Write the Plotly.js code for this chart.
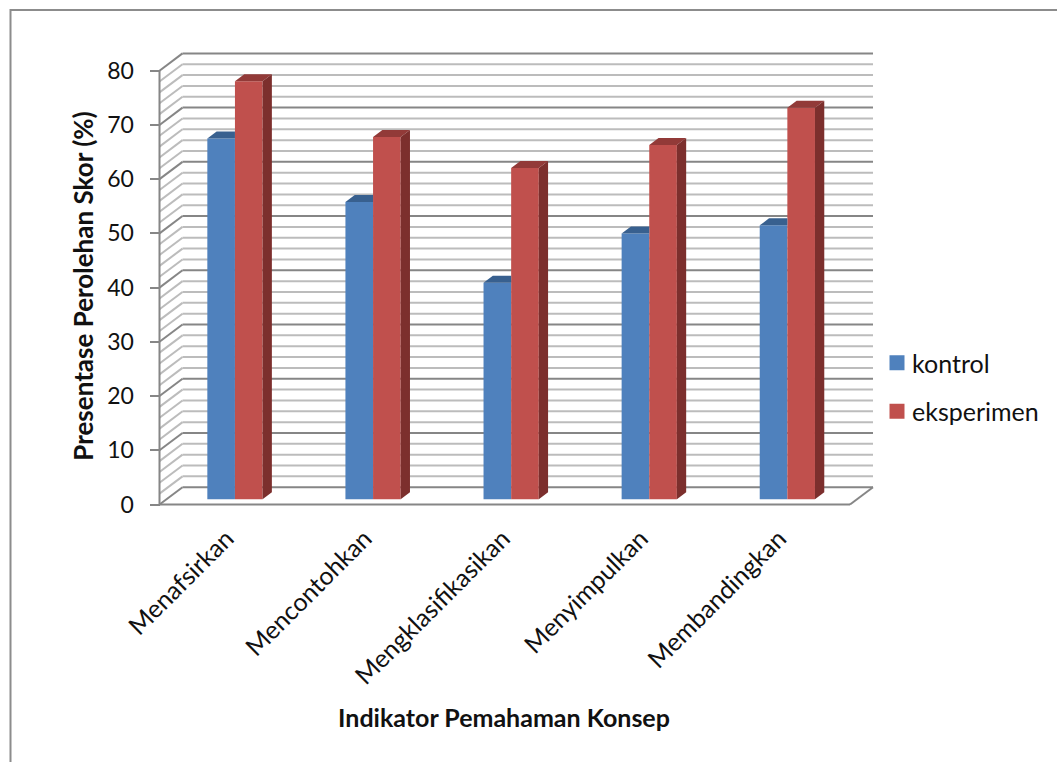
<!DOCTYPE html>
<html>
<head>
<meta charset="utf-8">
<script src="https://cdn.plot.ly/plotly-3.0.1.min.js"></script>
<style>html,body{margin:0;padding:0;background:#fff}#chart{width:1057px;height:762px}</style>
</head>
<body>
<div id="chart"></div>
<script>
// Scores per concept-understanding indicator
const categories = ["Menafsirkan", "Mencontohkan", "Mengklasifikasikan", "Menyimpulkan", "Membandingkan"];
const kontrol = [66.5, 54.8, 39.9, 49, 50.5];
const eksperimen = [77.1, 66.8, 61.1, 65.3, 72.2];
const yTicks = [0, 10, 20, 30, 40, 50, 60, 70, 80];

// Page geometry of the plot area
const W = 1057, H = 762;
const LEFT = 132, RIGHT = 876, TOP = 51, BOTTOM = 521;
const ORIGIN_X = 159.5, ORIGIN_Y = 504.5, PX_PER_CAT = 138.1, PX_PER_UNIT = 5.4225;

// Oblique projection: wall depth and bar depth expressed in axis units
const WALL_DX = 23 / PX_PER_CAT, WALL_DY = 17.3 / PX_PER_UNIT;
const BAR_DX = 9.3 / PX_PER_CAT, BAR_DY = 7 / PX_PER_UNIT;
const BAR_SHIFT_X = 6.4 / PX_PER_CAT, BAR_BASE = 5.3 / PX_PER_UNIT;
const BAR_WIDTH = 0.2;
const LABEL_SHIFT_X = -2 / PX_PER_CAT;

const FONT = "Lato, Carlito, Calibri, sans-serif";
const GRID_MINOR = "#bcbcbc", GRID_MAJOR = "#868686";

const centers = categories.map((_, i) => i + 0.5 + BAR_SHIFT_X);

// Top face of a bar; the right end can stop at a neighbour's front face
function topFace(xs, ys, clipRight) {
  const px = [], py = [];
  xs.forEach((x0, i) => {
    const x1 = x0 + BAR_WIDTH, t = ys[i] + BAR_BASE;
    const xr = clipRight ? x1 : x1 + BAR_DX;
    px.push(x0, x0 + BAR_DX, xr, x1, x0, null);
    py.push(t, t + BAR_DY, t + BAR_DY, t, t, null);
  });
  return {x: px, y: py};
}

// Right-hand side face of a bar
function sideFace(xs, ys) {
  const px = [], py = [];
  xs.forEach((x0, i) => {
    const x1 = x0 + BAR_WIDTH, b = BAR_BASE, t = ys[i] + BAR_BASE;
    px.push(x1, x1 + BAR_DX, x1 + BAR_DX, x1, x1, null);
    py.push(b, b + BAR_DY, t + BAR_DY, t, b, null);
  });
  return {x: px, y: py};
}

function face(poly, color) {
  return {type: "scatter", mode: "lines", x: poly.x, y: poly.y, fill: "toself",
          fillcolor: color, line: {width: 0, color: color}, hoverinfo: "skip", showlegend: false};
}

function barTrace(name, values, color, offset) {
  return {type: "bar", name: name, x: centers, y: values, base: BAR_BASE,
          width: BAR_WIDTH, offset: offset, legendgroup: name,
          marker: {color: color, line: {width: 0}}};
}

const traces = [
  barTrace("kontrol", kontrol, "#4F81BD", -BAR_WIDTH),
  barTrace("eksperimen", eksperimen, "#C0504D", 0),
  face(topFace(centers.map(c => c - BAR_WIDTH), kontrol, true), "#38608F"),
  face(topFace(centers, eksperimen, false), "#923A38"),
  face(sideFace(centers, eksperimen), "#7C2F2D")
];

// Walls and floor of the box, layered underneath the bars
function seg(x0, y0, x1, y1, color, width) {
  return {type: "line", xref: "x", yref: "y", layer: "below", x0, y0, x1, y1,
          line: {color: color, width: width}};
}
const shapes = [];
for (let v = 0; v <= 80; v += 2) {
  const major = v % 10 === 0;
  const col = major ? GRID_MAJOR : GRID_MINOR;
  shapes.push(seg(WALL_DX, v + WALL_DY, 5 + WALL_DX, v + WALL_DY, col, 2));
  shapes.push(seg(0, v, WALL_DX, v + WALL_DY, col, 2));
}
shapes.push(seg(0, 0, 0, 80, GRID_MAJOR, 2));
shapes.push(seg(0, 0, 5, 0, GRID_MAJOR, 2));
shapes.push(seg(5, 0, 5 + WALL_DX, WALL_DY, GRID_MAJOR, 2));

// Outer chart frame, running off the right and bottom of the page
const pw = RIGHT - LEFT, ph = BOTTOM - TOP;
shapes.push({type: "path", xref: "paper", yref: "paper", layer: "below",
  path: `M ${(10.5 - LEFT) / pw} ${(BOTTOM - 780) / ph} L ${(10.5 - LEFT) / pw} ${(BOTTOM - 10) / ph} L ${(1070 - LEFT) / pw} ${(BOTTOM - 10) / ph}`,
  line: {color: "#8c8c8c", width: 2}});

const layout = {
  width: W, height: H,
  margin: {l: LEFT, r: W - RIGHT, t: TOP, b: H - BOTTOM, pad: 0},
  paper_bgcolor: "#fff", plot_bgcolor: "rgba(0,0,0,0)",
  font: {family: FONT, color: "#111"},
  barmode: "overlay",
  xaxis: {
    range: [(LEFT - ORIGIN_X) / PX_PER_CAT, (RIGHT - ORIGIN_X) / PX_PER_CAT],
    tickmode: "array", tickvals: categories.map((_, i) => i + 0.5 + LABEL_SHIFT_X), ticktext: categories,
    tickangle: -45, tickfont: {size: 25, family: FONT, color: "#111"},
    showgrid: false, zeroline: false, showline: false, ticks: "",
    ticklabelstandoff: -3, automargin: false,
    title: {text: "<b>Indikator Pemahaman Konsep</b>", font: {size: 25, family: FONT, color: "#111"}, standoff: 20}
  },
  yaxis: {
    range: [(ORIGIN_Y - BOTTOM) / PX_PER_UNIT, (ORIGIN_Y - TOP) / PX_PER_UNIT],
    anchor: "free", position: (ORIGIN_X - LEFT) / pw,
    tickmode: "array", tickvals: yTicks, ticktext: yTicks.map(String),
    tickfont: {size: 23, family: FONT, color: "#111"},
    ticks: "outside", ticklen: 10, tickwidth: 2, tickcolor: GRID_MAJOR,
    ticklabelstandoff: 11,
    showgrid: false, zeroline: false, showline: false, automargin: false,
    title: {text: "<b>Presentase Perolehan Skor (%)</b>", font: {size: 26, family: FONT, color: "#111"}, standoff: 5}
  },
  legend: {
    x: (872 - LEFT) / pw, xanchor: "left", y: (BOTTOM - 340) / ph, yanchor: "top",
    traceorder: "grouped", tracegroupgap: 13,
    font: {size: 25, family: FONT, color: "#111"}, bgcolor: "rgba(0,0,0,0)"
  },
  shapes: shapes
};

Plotly.newPlot("chart", traces, layout, {displayModeBar: false, staticPlot: true}).then(() => {
  // Larger square legend keys, set closer to their labels
  document.querySelectorAll(".legend .legendpoints path").forEach(p => {
    p.setAttribute("d", "M12.5,7.5H-2.5V-7.5H12.5Z");
  });
});
</script>
</body>
</html>
